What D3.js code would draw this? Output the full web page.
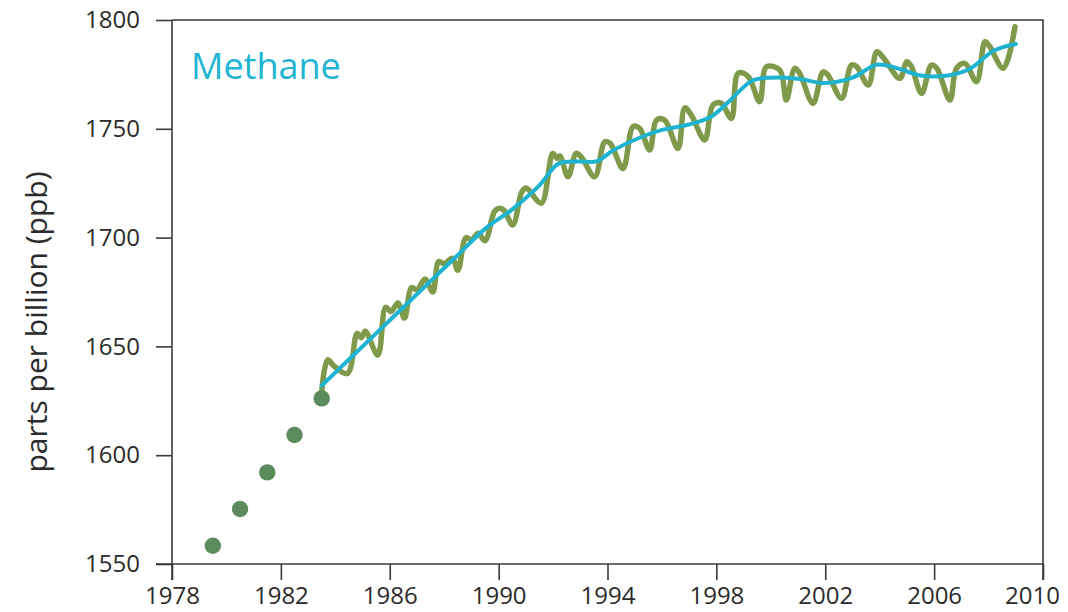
<!DOCTYPE html>
<html>
<head>
<meta charset="utf-8">
<script src="https://cdn.jsdelivr.net/npm/d3@7"></script>
<style>
  html, body { margin: 0; padding: 0; background: #fff; }
  svg { display: block; }
  text { font-family: "Open Sans", "Noto Sans", sans-serif; }
</style>
</head>
<body>
<svg id="chart" width="1068" height="612"></svg>
<script>
// Early annual flask estimates (ppb)
const dotYears = [1979.5, 1980.5, 1981.5, 1982.5, 1983.5];
const dotPpb   = [1558.4, 1575.3, 1592.1, 1609.3, 1626.1];

// Monthly-resolution global mean (seasonal cycle included)
const monthlyYears = [
  1983.50, 1983.72, 1983.95, 1984.45, 1984.80, 1984.95, 1985.10, 1985.56,
  1985.85, 1986.05, 1986.30, 1986.54, 1986.80, 1987.00, 1987.30, 1987.58,
  1987.80, 1988.00, 1988.30, 1988.50, 1988.80, 1989.00, 1989.25, 1989.50,
  1989.85, 1990.03, 1990.20, 1990.52, 1990.85, 1991.00, 1991.10, 1991.57,
  1991.99, 1992.15, 1992.25, 1992.55, 1992.85, 1993.04, 1993.53, 1993.90,
  1994.10, 1994.57, 1994.94, 1995.18, 1995.55, 1995.80, 1996.10, 1996.59,
  1996.84, 1997.08, 1997.57, 1997.88, 1998.18, 1998.55, 1998.80, 1999.17,
  1999.59, 1999.84, 2000.33, 2000.57, 2000.88, 2001.06, 2001.55, 2001.92,
  2002.10, 2002.60, 2002.96, 2003.15, 2003.58, 2003.90, 2004.15, 2004.74,
  2004.99, 2005.15, 2005.54, 2005.90, 2006.10, 2006.58, 2006.82, 2007.13,
  2007.56, 2007.87, 2008.05, 2008.54, 2008.97
];
const monthlyPpb = [
  1629.0, 1643.8, 1641.0, 1637.6, 1656.0, 1654.0, 1657.0, 1646.0,
  1668.0, 1666.0, 1670.0, 1663.0, 1677.0, 1676.0, 1681.0, 1675.0,
  1689.0, 1688.0, 1690.5, 1685.0, 1700.0, 1699.0, 1702.0, 1698.5,
  1712.0, 1713.5, 1712.5, 1705.8, 1721.0, 1722.8, 1722.0, 1715.8,
  1738.7, 1736.4, 1737.5, 1728.0, 1738.7, 1737.0, 1728.0, 1744.0,
  1743.3, 1731.8, 1751.0, 1750.2, 1740.3, 1754.0, 1754.0, 1741.0,
  1759.6, 1756.3, 1744.9, 1761.0, 1761.7, 1754.8, 1775.5, 1774.0,
  1762.5, 1778.5, 1777.0, 1763.2, 1777.8, 1775.5, 1761.7, 1776.2,
  1774.7, 1764.0, 1779.3, 1778.6, 1770.1, 1785.4, 1782.4, 1773.2,
  1780.8, 1779.0, 1766.3, 1779.3, 1777.8, 1763.2, 1777.8, 1780.1,
  1771.6, 1790.0, 1787.7, 1777.8, 1796.9
];

// Deseasonalized trend (ppb)
const trendYears = [
  1983.5, 1984.5, 1985.5, 1986.5, 1987.5, 1988.5, 1989.5, 1990.5,
  1991.5, 1992.2, 1993.0, 1993.6, 1994.2, 1995.2, 1996.0, 1997.0,
  1997.8, 1998.5, 1999.3, 2000.0, 2001.0, 2002.0, 2003.0, 2003.9,
  2004.6, 2005.5, 2006.5, 2007.3, 2008.2, 2009.0
];
const trendPpb = [
  1632.0, 1644.0, 1656.0, 1668.0, 1680.0, 1692.0, 1704.0, 1713.0,
  1724.0, 1734.0, 1735.0, 1735.0, 1740.0, 1746.0, 1749.5, 1752.0,
  1755.5, 1763.0, 1772.0, 1773.5, 1773.0, 1771.0, 1773.5, 1779.5,
  1778.0, 1774.5, 1774.5, 1777.5, 1786.0, 1789.0
];

const xTicks = [1978, 1982, 1986, 1990, 1994, 1998, 2002, 2006, 2010];
const yTicks = [1550, 1600, 1650, 1700, 1750, 1800];

const seriesName = "Methane";
const yTitle = "parts per billion (ppb)";

const svg = d3.select("#chart");
const plotL = 172, plotR = 1043, plotT = 20, plotB = 564;
const tickLen = 16;

const x = d3.scaleLinear().domain([1978, 2010]).range([plotL, plotR]);
const y = d3.scaleLinear().domain([1550, 1800]).range([plotB, plotT]);

const axisColor = "#3a3a3a";
const labelColor = "#2b2b2b";

// Frame: top and right edges (right edge runs down into the 2010 tick)
svg.append("path")
  .attr("d", `M${plotL},${plotT}H${plotR}V${plotB + tickLen}`)
  .attr("fill", "none")
  .attr("stroke", axisColor)
  .attr("stroke-width", 1.6);

// Axes
const yAxis = svg.append("g")
  .attr("transform", `translate(${plotL},0)`)
  .call(d3.axisLeft(y).tickValues(yTicks).tickFormat(d3.format("d"))
    .tickSize(tickLen).tickSizeOuter(0).tickPadding(16));

const xAxis = svg.append("g")
  .attr("transform", `translate(0,${plotB})`)
  .call(d3.axisBottom(x).tickValues(xTicks).tickFormat(d3.format("d"))
    .tickSize(tickLen).tickSizeOuter(0).tickPadding(7));

[yAxis, xAxis].forEach(g => {
  g.select(".domain").attr("stroke", axisColor).attr("stroke-width", 1.6);
  g.selectAll(".tick line").attr("stroke", axisColor).attr("stroke-width", 1.6);
  g.selectAll(".tick text")
    .attr("fill", labelColor)
    .style("font-size", "24px")
    .style("font-family", "'Open Sans', sans-serif");
});
// last year label is pulled in from the page edge
xAxis.selectAll(".tick text").filter(d => d === 2010).attr("dx", -11);

// y-axis line runs from the frame top down into the 1978 tick;
// x-axis line reaches left to the 1550 tick
yAxis.select(".domain").attr("d", `M0,${plotT}V${plotB + tickLen}`);
xAxis.select(".domain").attr("d", `M${plotL - tickLen},0H${plotR}`);

// Y axis title
svg.append("text")
  .attr("transform", `translate(47,322) rotate(-90)`)
  .attr("text-anchor", "middle")
  .attr("fill", labelColor)
  .style("font-size", "30px")
  .text(yTitle);

// Series label
svg.append("text")
  .attr("x", 191)
  .attr("y", 79)
  .attr("fill", "#22b5d3")
  .style("font-size", "36px")
  .text(seriesName);

const monthly = monthlyYears.map((t, i) => [t, monthlyPpb[i]]);
const trend = trendYears.map((t, i) => [t, trendPpb[i]]);
const lineGen = d3.line().x(d => x(d[0])).y(d => y(d[1])).curve(d3.curveCatmullRom.alpha(0.5));

// Monthly record
svg.append("path")
  .datum(monthly)
  .attr("fill", "none")
  .attr("stroke", "#7f9a4b")
  .attr("stroke-width", 5.5)
  .attr("stroke-linejoin", "round")
  .attr("stroke-linecap", "round")
  .attr("d", lineGen);

// Annual points
svg.append("g")
  .selectAll("circle")
  .data(dotYears.map((t, i) => [t, dotPpb[i]]))
  .join("circle")
  .attr("cx", d => x(d[0]))
  .attr("cy", d => y(d[1]))
  .attr("r", 8.2)
  .attr("fill", "#5c8c5e");

// Trend line
svg.append("path")
  .datum(trend)
  .attr("fill", "none")
  .attr("stroke", "#1db3d1")
  .attr("stroke-width", 4)
  .attr("stroke-linecap", "round")
  .attr("d", lineGen);
</script>
</body>
</html>
